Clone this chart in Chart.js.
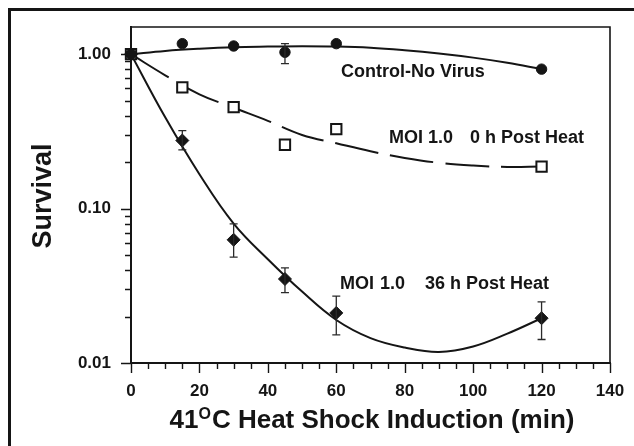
<!DOCTYPE html>
<html>
<head>
<meta charset="utf-8">
<script src="https://cdn.jsdelivr.net/npm/chart.js@4.4.1/dist/chart.umd.min.js"></script>
<style>
  html, body { margin: 0; padding: 0; background: #ffffff; }
  #wrap { width: 634px; height: 446px; position: relative; }
</style>
</head>
<body>
<div id="wrap"><canvas id="c" width="634" height="446"></canvas></div>
<script>
// ---------- data ----------
const timeMin = [0, 15, 30, 45, 60, 120];

const controlSurv   = [1.00, 1.17, 1.13, 1.03, 1.17, 0.80];
const controlErrHi  = [null, null, null, 1.17, null, null];
const controlErrLo  = [null, null, null, 0.87, null, null];

const moi0hSurv     = [1.00, 0.61, 0.454, 0.259, 0.327, 0.187];

const moi36hSurv    = [1.00, 0.276, 0.0628, 0.035, 0.0211, 0.0195];
const moi36hErrHi   = [null, 0.32, 0.0797, 0.0413, 0.0271, 0.0249];
const moi36hErrLo   = [null, 0.24, 0.0485, 0.0286, 0.0152, 0.0142];

// fitted curves
const fitTime       = [0, 10, 20, 30, 40, 50, 60, 70, 80, 90, 100, 110, 120];
const controlFit    = [1.00, 1.05, 1.085, 1.11, 1.12, 1.125, 1.12, 1.10, 1.06, 1.01, 0.95, 0.88, 0.80];
const moi0hFit      = [1.00, 0.73, 0.55, 0.45, 0.37, 0.30, 0.265, 0.235, 0.213, 0.198, 0.19, 0.186, 0.187];
const moi36hFit     = [1.00, 0.39, 0.167, 0.080, 0.047, 0.029, 0.019, 0.0145, 0.0126, 0.0118, 0.0128, 0.0155, 0.0195];

const xTickValues   = [0, 20, 40, 60, 80, 100, 120, 140];
const yTickValues   = [0.01, 0.1, 1];
const yTickLabels   = ['0.01', '0.10', '1.00'];

const seriesLabels  = {
  control: ['Control-No Virus'],
  moi0h:   ['MOI 1.0', '0 h Post Heat'],
  moi36h:  ['MOI', '1.0', '36 h Post Heat']
};
const yTitle = 'Survival';
const xTitleParts = ['41', 'O', 'C Heat Shock Induction (min)'];

// ---------- helpers ----------
const FONT = "'Liberation Sans', Arial, Helvetica, sans-serif";
const INK = '#151515';
const pts = (xs, ys) => xs.map((x, i) => ({ x: x, y: ys[i] }));

const errorBars = {
  id: 'errorBars',
  afterDatasetsDraw(chart) {
    const { ctx, scales: { x, y } } = chart;
    const sets = [[controlErrLo, controlErrHi], [moi36hErrLo, moi36hErrHi]];
    ctx.save();
    ctx.strokeStyle = '#2a2a2a';
    ctx.lineWidth = 1.3;
    sets.forEach(([lo, hi]) => {
      timeMin.forEach((t, i) => {
        if (lo[i] == null || hi[i] == null) return;
        const px = x.getPixelForValue(t);
        const p1 = y.getPixelForValue(lo[i]);
        const p2 = y.getPixelForValue(hi[i]);
        ctx.beginPath();
        ctx.moveTo(px, p1); ctx.lineTo(px, p2);
        ctx.moveTo(px - 4, p1); ctx.lineTo(px + 4, p1);
        ctx.moveTo(px - 4, p2); ctx.lineTo(px + 4, p2);
        ctx.stroke();
      });
    });
    ctx.restore();
  }
};

const decor = {
  id: 'decor',
  beforeDraw(chart) {
    const { ctx } = chart;
    ctx.save();
    ctx.fillStyle = '#ffffff';
    ctx.fillRect(0, 0, chart.width, chart.height);
    ctx.restore();
  },
  afterDraw(chart) {
    const { ctx, chartArea: { left, right, top, bottom }, scales: { x, y } } = chart;
    ctx.save();
    // outer frame (left + top)
    ctx.fillStyle = INK;
    ctx.fillRect(8, 8, chart.width - 8, 3);
    ctx.fillRect(8, 8, 3, chart.height - 8);
    // plot frame top + right
    ctx.strokeStyle = INK;
    ctx.lineWidth = 1.6;
    ctx.beginPath();
    ctx.moveTo(left, top); ctx.lineTo(right, top); ctx.lineTo(right, bottom);
    ctx.stroke();
    // x ticks (major every 20, minor every 5)
    ctx.lineWidth = 1.4;
    ctx.beginPath();
    for (let v = x.min; v <= x.max + 1e-9; v += 5) {
      const px = Math.round(x.getPixelForValue(v)) + 0.5;
      const len = (v % 20 === 0) ? 10 : 6;
      ctx.moveTo(px, bottom); ctx.lineTo(px, bottom + len);
    }
    // y ticks (log: major at decades, minor 2..9)
    for (let e = -2; e <= 0; e++) {
      for (let m = 1; m <= 9; m++) {
        const val = m * Math.pow(10, e);
        if (val < y.min - 1e-12 || val > y.max) continue;
        const py = Math.round(y.getPixelForValue(val)) + 0.5;
        const len = (m === 1) ? 10 : 6;
        ctx.moveTo(left - len, py); ctx.lineTo(left, py);
      }
    }
    ctx.stroke();

    // series labels
    ctx.fillStyle = INK;
    ctx.textBaseline = 'middle';
    ctx.textAlign = 'left';
    ctx.font = 'bold 18px ' + FONT;
    ctx.fillText(seriesLabels.control[0], 341, 72);
    ctx.fillText(seriesLabels.moi0h[0], 389, 138);
    ctx.fillText(seriesLabels.moi0h[1], 470, 138);
    ctx.fillText(seriesLabels.moi36h[0], 340, 284);
    ctx.fillText(seriesLabels.moi36h[1], 380, 284);
    ctx.fillText(seriesLabels.moi36h[2], 425, 284);

    // y title
    ctx.save();
    ctx.translate(44, 196);
    ctx.rotate(-Math.PI / 2);
    ctx.textAlign = 'center';
    ctx.font = 'bold 27px ' + FONT;
    ctx.fillText(yTitle, 0, 0);
    ctx.restore();

    // x title with superscript O
    ctx.textBaseline = 'alphabetic';
    const mainF = 'bold 26px ' + FONT, supF = 'bold 16px ' + FONT;
    ctx.font = mainF; const w1 = ctx.measureText(xTitleParts[0]).width;
    const w3 = ctx.measureText(xTitleParts[2]).width;
    ctx.font = supF; const w2 = ctx.measureText(xTitleParts[1]).width;
    let sx = 372 - (w1 + w2 + 1 + w3) / 2;
    const base = 428;
    ctx.font = mainF; ctx.fillText(xTitleParts[0], sx, base); sx += w1;
    ctx.font = supF; ctx.fillText(xTitleParts[1], sx, base - 9); sx += w2 + 1;
    ctx.font = mainF; ctx.fillText(xTitleParts[2], sx, base);
    ctx.restore();
  }
};

new Chart(document.getElementById('c'), {
  type: 'scatter',
  data: {
    datasets: [
      { label: 'Control-No Virus', data: pts(timeMin, controlSurv), showLine: false,
        pointStyle: 'circle', pointRadius: 5.2, pointBackgroundColor: INK, pointBorderColor: INK,
        pointBorderWidth: 1, clip: false },
      { label: 'MOI 1.0 0 h Post Heat', data: pts(timeMin, moi0hSurv), showLine: false,
        pointStyle: 'rect', pointRadius: 7.3, pointBackgroundColor: '#ffffff', pointBorderColor: INK,
        pointBorderWidth: 2, clip: false },
      { label: 'MOI 1.0 36 h Post Heat', data: pts(timeMin, moi36hSurv), showLine: false,
        pointStyle: 'rectRot', pointRadius: 6.5, pointBackgroundColor: INK, pointBorderColor: INK,
        pointBorderWidth: 1, clip: false },
      { label: 'control fit', data: pts(fitTime, controlFit), showLine: true, pointRadius: 0,
        borderColor: INK, borderWidth: 2, tension: 0.4, fill: false },
      { label: '0 h fit', data: pts(fitTime, moi0hFit), showLine: true, pointRadius: 0,
        borderColor: INK, borderWidth: 2, borderDash: [44, 12], tension: 0.4, fill: false },
      { label: '36 h fit', data: pts(fitTime, moi36hFit), showLine: true, pointRadius: 0,
        borderColor: INK, borderWidth: 2, tension: 0.4, fill: false }
    ]
  },
  options: {
    responsive: false,
    animation: false,
    events: [],
    layout: { padding: { left: 0, top: 27, right: 24, bottom: 0 } },
    plugins: { legend: { display: false }, tooltip: { enabled: false }, title: { display: false } },
    scales: {
      x: {
        type: 'linear', min: 0, max: 140,
        afterFit: s => { s.height = 83; s.paddingLeft = 0; s.paddingRight = 0; },
        afterBuildTicks: s => { s.ticks = xTickValues.map(v => ({ value: v })); },
        grid: { display: false, drawTicks: false },
        border: { display: true, color: INK, width: 2 },
        ticks: { color: INK, font: { family: FONT, size: 17, weight: 'bold' }, padding: 18,
                 maxRotation: 0, autoSkip: false, callback: v => String(v) }
      },
      y: {
        type: 'logarithmic', min: 0.01, max: 1.5,
        afterFit: s => { s.width = 131; s.paddingTop = 0; s.paddingBottom = 0; },
        afterBuildTicks: s => { s.ticks = yTickValues.map(v => ({ value: v })); },
        grid: { display: false, drawTicks: false },
        border: { display: true, color: INK, width: 2 },
        ticks: { color: INK, font: { family: FONT, size: 17, weight: 'bold' }, padding: 20,
                 autoSkip: false,
                 callback: v => { const i = yTickValues.findIndex(t => Math.abs(t - v) < 1e-9); return i >= 0 ? yTickLabels[i] : ''; } }
      }
    }
  },
  plugins: [errorBars, decor]
});
</script>
</body>
</html>
